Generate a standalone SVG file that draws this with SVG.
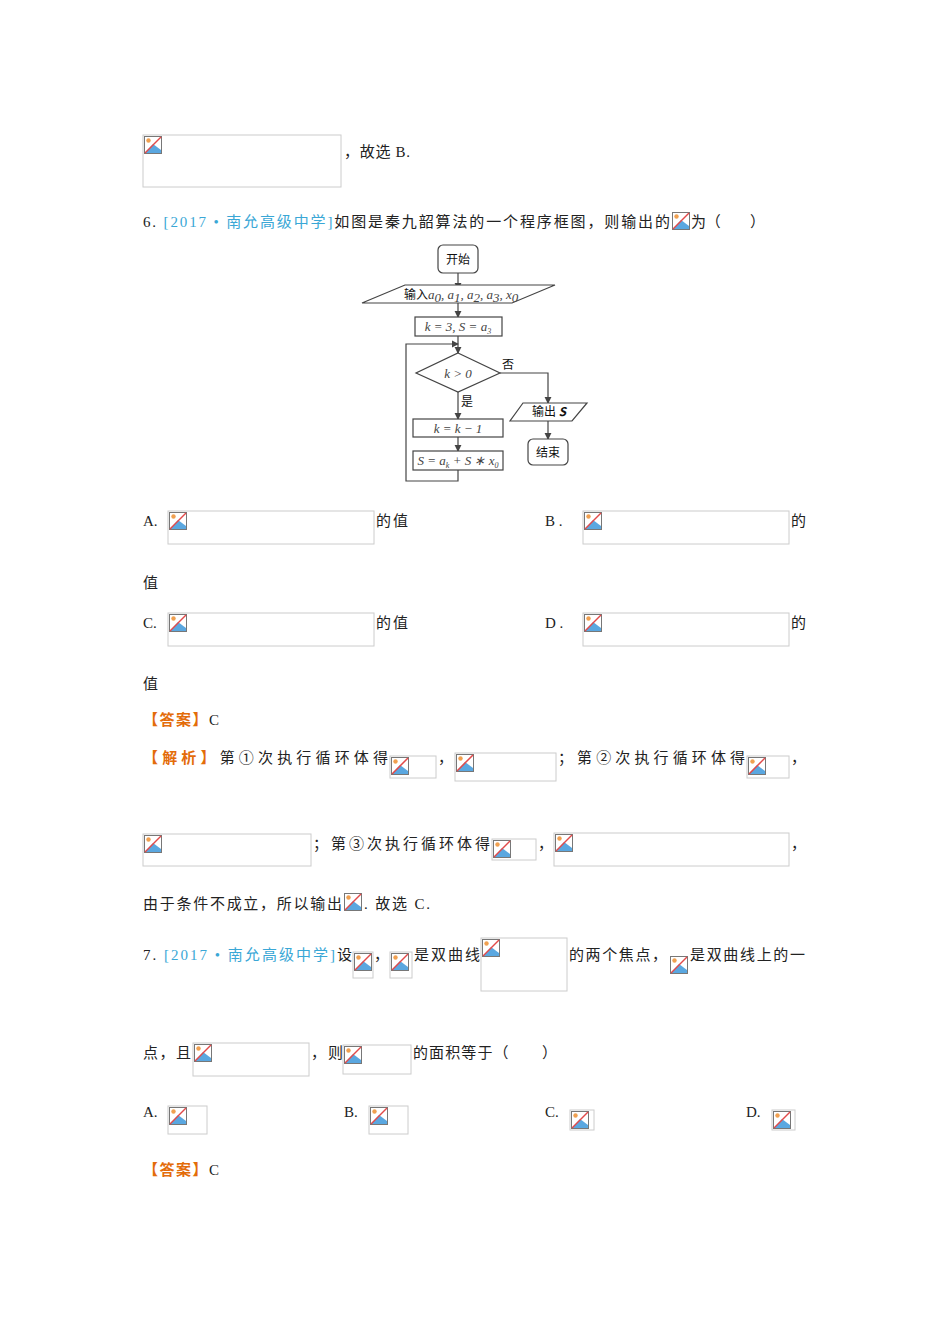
<svg xmlns="http://www.w3.org/2000/svg" width="950" height="1344" viewBox="0 0 950 1344">
<style>
text{font-family:"Liberation Serif","Noto Sans CJK SC",serif;font-size:15px;fill:#222}
.c{fill:#3aa7d6}
.o{fill:#e36c0a;font-weight:bold}
.ph{fill:#fff;stroke:#ccc;stroke-width:1}
.f{fill:#fff;stroke:#444;stroke-width:1.2}
.l{fill:none;stroke:#444;stroke-width:1.2}
.ft{font-family:"Noto Sans CJK SC",sans-serif;font-size:12px;fill:#111}
.fm{font-family:"Liberation Serif","Noto Sans CJK SC",serif;font-style:italic;font-size:13px;fill:#444}
</style>
<defs>
<symbol id="ic" viewBox="0 0 18 18">
<rect x="0.5" y="0.5" width="17" height="17" fill="#fff" stroke="#777"/>
<path d="M1 17 L9 8 L17 14 L17 17 Z" fill="#5aa7e0"/>
<circle cx="4.5" cy="4.5" r="2.2" fill="#f0a050"/>
<line x1="1" y1="17" x2="17" y2="1" stroke="#e24a4a" stroke-width="1.5"/>
</symbol>
<marker id="a" viewBox="0 0 8 8" refX="7" refY="4" markerWidth="6" markerHeight="6" orient="auto"><path d="M0 0 L8 4 L0 8 Z" fill="#444"/></marker>
</defs>
<rect width="950" height="1344" fill="#fff"/>
<g id="text">
<rect class="ph" x="143" y="135" width="198" height="52"/><use href="#ic" x="144" y="136" width="18" height="18"/>
<text x="344" y="157" textLength="66" lengthAdjust="spacing">，故选 B.</text>
<text x="143" y="227" textLength="527" lengthAdjust="spacing">6. <tspan class="c">[2017 • 南允高级中学]</tspan>如图是秦九韶算法的一个程序框图，则输出的</text>
<use href="#ic" x="672" y="212" width="18" height="18"/>
<text x="691" y="227" textLength="74" lengthAdjust="spacing">为（　　）</text>
<text x="143" y="526">A.</text><rect class="ph" x="168" y="511" width="206" height="33"/><use href="#ic" x="169" y="512" width="18" height="18"/><text x="376" y="526" textLength="32" lengthAdjust="spacing">的值</text>
<text x="545" y="526">B .</text><rect class="ph" x="583" y="511" width="206" height="33"/><use href="#ic" x="584" y="512" width="18" height="18"/><text x="791" y="526">的</text>
<text x="143" y="588">值</text>
<text x="143" y="628">C.</text><rect class="ph" x="168" y="613" width="206" height="33"/><use href="#ic" x="169" y="614" width="18" height="18"/><text x="376" y="628" textLength="32" lengthAdjust="spacing">的值</text>
<text x="545" y="628">D .</text><rect class="ph" x="583" y="613" width="206" height="33"/><use href="#ic" x="584" y="614" width="18" height="18"/><text x="791" y="628">的</text>
<text x="143" y="689">值</text>
<text x="143" y="725" textLength="76" lengthAdjust="spacing"><tspan class="o">【答案】</tspan>C</text>
<text x="143" y="763" textLength="245" lengthAdjust="spacing"><tspan class="o">【解析】</tspan>第①次执行循环体得</text>
<rect class="ph" x="390" y="756" width="46" height="22"/><use href="#ic" x="391" y="757" width="18" height="18"/>
<text x="438" y="763">，</text>
<rect class="ph" x="455" y="753" width="101" height="28"/><use href="#ic" x="456" y="754" width="18" height="18"/>
<text x="558" y="763" textLength="187" lengthAdjust="spacing">；第②次执行循环体得</text>
<rect class="ph" x="747" y="756" width="42" height="22"/><use href="#ic" x="748" y="757" width="18" height="18"/>
<text x="791" y="763">，</text>
<rect class="ph" x="143" y="834" width="168" height="32"/><use href="#ic" x="144" y="835" width="18" height="18"/>
<text x="313" y="849" textLength="177" lengthAdjust="spacing">；第③次执行循环体得</text>
<rect class="ph" x="492" y="839" width="44" height="21"/><use href="#ic" x="493" y="840" width="18" height="18"/>
<text x="538" y="849">，</text>
<rect class="ph" x="554" y="833" width="235" height="33"/><use href="#ic" x="555" y="834" width="18" height="18"/>
<text x="791" y="849">，</text>
<text x="143" y="909" textLength="199" lengthAdjust="spacing">由于条件不成立，所以输出</text><use href="#ic" x="344" y="893" width="18" height="18"/><text x="364" y="909" textLength="66" lengthAdjust="spacing">. 故选 C.</text>
<text x="143" y="960" textLength="209" lengthAdjust="spacing">7. <tspan class="c">[2017 • 南允高级中学]</tspan>设</text>
<rect class="ph" x="353" y="952" width="20" height="26"/><use href="#ic" x="354" y="953" width="18" height="18"/>
<text x="374" y="960">，</text>
<rect class="ph" x="390" y="952" width="22" height="26"/><use href="#ic" x="391" y="953" width="18" height="18"/>
<text x="414" y="960" textLength="66" lengthAdjust="spacing">是双曲线</text>
<rect class="ph" x="481" y="938" width="86" height="53"/><use href="#ic" x="482" y="939" width="18" height="18"/>
<text x="569" y="960" textLength="98" lengthAdjust="spacing">的两个焦点，</text>
<use href="#ic" x="670" y="956" width="18" height="18"/>
<text x="690" y="960" textLength="115" lengthAdjust="spacing">是双曲线上的一</text>
<text x="143" y="1058" textLength="48" lengthAdjust="spacing">点，且</text>
<rect class="ph" x="193" y="1043" width="116" height="33"/><use href="#ic" x="194" y="1044" width="18" height="18"/>
<text x="311" y="1058" textLength="32" lengthAdjust="spacing">，则</text>
<rect class="ph" x="343" y="1045" width="68" height="29"/><use href="#ic" x="344" y="1046" width="18" height="18"/>
<text x="413" y="1058" textLength="144" lengthAdjust="spacing">的面积等于（　　）</text>
<text x="143" y="1117">A.</text><rect class="ph" x="168" y="1106" width="39" height="28"/><use href="#ic" x="169" y="1107" width="18" height="18"/>
<text x="344" y="1117">B.</text><rect class="ph" x="369" y="1106" width="39" height="28"/><use href="#ic" x="370" y="1107" width="18" height="18"/>
<text x="545" y="1117">C.</text><rect class="ph" x="570" y="1110" width="24" height="20"/><use href="#ic" x="571" y="1111" width="18" height="18"/>
<text x="746" y="1117">D.</text><rect class="ph" x="772" y="1110" width="23" height="20"/><use href="#ic" x="773" y="1111" width="18" height="18"/>
<text x="143" y="1175" textLength="76" lengthAdjust="spacing"><tspan class="o">【答案】</tspan>C</text>
</g>
<g id="connectors">
<line class="l" x1="458" y1="273" x2="458" y2="289" marker-end="url(#a)"/>
<line class="l" x1="458" y1="303" x2="458" y2="317" marker-end="url(#a)"/>
<line class="l" x1="458" y1="336" x2="458" y2="353" marker-end="url(#a)"/>
<line class="l" x1="458" y1="392" x2="458" y2="419" marker-end="url(#a)"/>
<line class="l" x1="458" y1="437" x2="458" y2="451" marker-end="url(#a)"/>
<polyline class="l" points="458,470 458,481 406,481 406,344 458,344" marker-end="url(#a)"/>
<polyline class="l" points="500,373 548,373 548,403" marker-end="url(#a)"/>
<line class="l" x1="548" y1="418" x2="548" y2="439" marker-end="url(#a)"/>
</g>
<g id="n-start"><rect class="f" x="438" y="245" width="40" height="28" rx="5"/><text class="ft" x="458" y="264" text-anchor="middle">开始</text></g>
<g id="n-input"><polygon class="f" points="405,285 555,285 512,303 362,303"/><text class="ft" x="404" y="299">输入<tspan class="fm">a</tspan><tspan class="fm" font-size="8" dy="3">0</tspan><tspan class="fm" dy="-3">, a</tspan><tspan class="fm" font-size="8" dy="3">1</tspan><tspan class="fm" dy="-3">, a</tspan><tspan class="fm" font-size="8" dy="3">2</tspan><tspan class="fm" dy="-3">, a</tspan><tspan class="fm" font-size="8" dy="3">3</tspan><tspan class="fm" dy="-3">, x</tspan><tspan class="fm" font-size="8" dy="3">0</tspan></text></g>
<g id="n-init"><rect class="f" x="415" y="317" width="87" height="19"/><text class="fm" x="458" y="331" text-anchor="middle">k = 3, S = a<tspan font-size="8" dy="3">3</tspan></text></g>
<g id="n-cond"><polygon class="f" points="458,353 500,373 458,392 416,373"/><text class="fm" x="458" y="378" text-anchor="middle">k &gt; 0</text>
<text class="ft" x="502" y="369">否</text><text class="ft" x="461" y="406">是</text></g>
<g id="n-dec"><rect class="f" x="413" y="419" width="90" height="18"/><text class="fm" x="458" y="433" text-anchor="middle">k = k − 1</text></g>
<g id="n-s"><rect class="f" x="413" y="451" width="90" height="19"/><text class="fm" x="458" y="465" text-anchor="middle">S = a<tspan font-size="8" dy="3">k</tspan><tspan dy="-3"> + S ∗ x</tspan><tspan font-size="8" dy="3">0</tspan></text></g>
<g id="n-out"><polygon class="f" points="523,403 587,403 572,421 510,421"/><text class="ft" x="549" y="416" text-anchor="middle">输出 <tspan font-style="italic" font-weight="bold">S</tspan></text></g>
<g id="n-end"><rect class="f" x="528" y="439" width="40" height="26" rx="5"/><text class="ft" x="548" y="457" text-anchor="middle">结束</text></g>
</svg>
